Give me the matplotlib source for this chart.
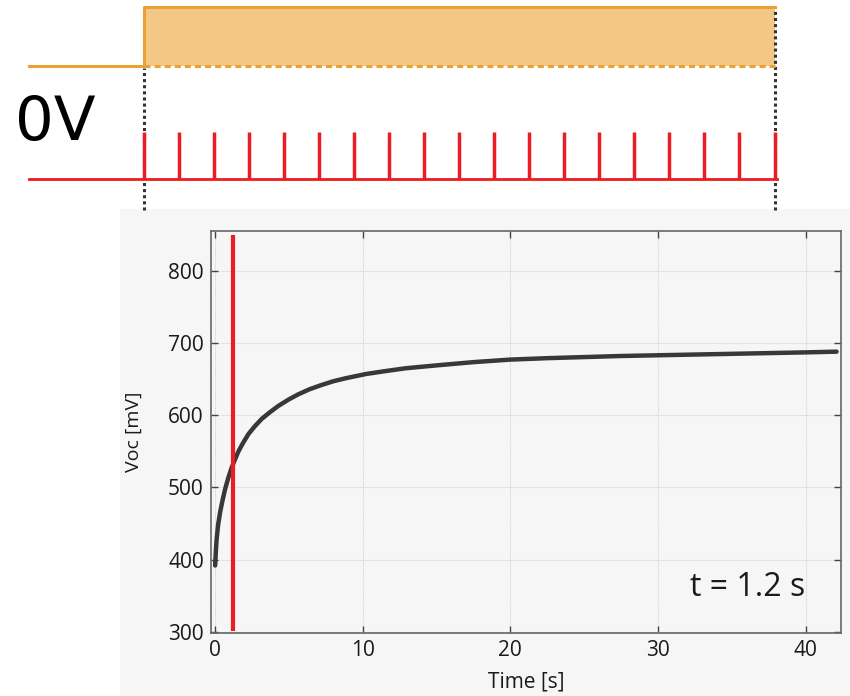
import numpy as np
import matplotlib
matplotlib.use("Agg")
import matplotlib.pyplot as plt
from matplotlib.patches import Rectangle

plt.rcParams['font.family'] = ['Open Sans', 'DejaVu Sans']

# Voc transient
time_s = [0.0, 0.05, 0.1, 0.2, 0.34, 0.5, 0.68, 0.9, 1.13, 1.35, 1.58, 1.9,
          2.26, 2.7, 3.16, 3.7, 4.29, 5.0, 5.64, 6.4, 7.23, 8.0, 8.8, 10.2,
          11.5, 12.9, 15.0, 17.5, 20.0, 22.5, 25.0, 27.5, 30.0, 32.5, 35.0,
          37.5, 40.0, 42.1]
voc_mv = [392, 412, 428, 448, 466, 482, 498, 514, 528, 539, 550, 562,
          574, 585, 595, 604, 613, 622, 629, 636, 642, 647, 651, 657,
          661, 665, 669, 673.5, 677, 679, 680.5, 682, 683, 684, 685,
          686, 687, 688]

t_marker = 1.2
marker_span = [302, 849]
marker_label = "t = 1.2 s"

xticks = [0, 10, 20, 30, 40]
yticks = [300, 400, 500, 600, 700, 800]

# schematic above the plot: gate step + pulse train
n_pulses = 19
bias_label = "0V"

W, H = 850, 696
fig = plt.figure(figsize=(W / 100, H / 100), dpi=100)

ORANGE = '#eba133'
ORANGE_FILL = '#f3c887'
RED = '#ec1c24'
GREY_BG = '#f6f6f6'

# grey backdrop of the pasted plot
fig.patches.append(Rectangle((120 / W, 0), 1 - 120 / W, 1 - 209 / H,
                             transform=fig.transFigure, facecolor=GREY_BG,
                             edgecolor='none', zorder=-5))

#----------------------------------------------------------------------
# main plot
ax = fig.add_axes([210.7 / W, 1 - 632.7 / H, (841 - 210.7) / W, (632.7 - 231) / H])
ax.set_facecolor(GREY_BG)
ax.set_axisbelow(True)
ax.grid(True, color='#d2d2d2', linestyle=(0, (1, 1)), linewidth=0.8)
ax.plot(time_s, voc_mv, color='#383838', lw=3.2, solid_capstyle='round',
        solid_joinstyle='round', zorder=3)
ax.vlines(t_marker, marker_span[0], marker_span[1], color=RED, lw=3, zorder=4)

ax.set_xlim(-0.3, 42.4)
ax.set_ylim(299, 855)
ax.set_xticks(xticks)
ax.set_yticks(yticks)
ax.tick_params(direction='in', top=True, right=True, length=5, width=1,
               color='#444444', labelsize=15, labelcolor='#1a1a1a', pad=5)
for s in ax.spines.values():
    s.set_color('#666666')
    s.set_linewidth(1.2)

ax.set_xlabel('Time [s]', fontsize=15, labelpad=8, color='#1a1a1a')
ax.set_ylabel('Voc [mV]', fontsize=14, labelpad=18, color='#1a1a1a')
ax.text(0.944, 0.092, marker_label, transform=ax.transAxes, ha='right',
        va='baseline', fontsize=23, color='#1a1a1a')

#----------------------------------------------------------------------
# schematic (x in pulse-index units, y in signal levels)
axd = fig.add_axes([0, 1 - 215 / H, 1, 215 / H])
axd.set_xlim(-4.097, 20.154)
axd.set_ylim(-0.766, 3.809)
axd.axis('off')
axd.patch.set_visible(False)

pulses = np.arange(n_pulses)
last = pulses[-1]
lo, hi = 2.40, 3.66

axd.fill_between([0, last], lo, hi, color=ORANGE_FILL, lw=0, zorder=1)
axd.plot([-3.27, 0, 0, last], [lo, lo, hi, hi], color=ORANGE, lw=2.2, zorder=3)
axd.plot([0, last], [lo, lo], color=ORANGE, lw=2.2, ls=(0, (2, 1.3)), zorder=3)

# dotted guides
axd.vlines(0, -0.66, lo - 0.04, color='#333333', ls=(0, (1, 1)), lw=2.2, zorder=2)
axd.vlines(last, -0.66, hi, color='#333333', ls=(0, (1, 1)), lw=2.2, zorder=2)

axd.plot([-3.27, last + 0.07], [0, 0], color=RED, lw=2, zorder=4)
axd.vlines(pulses, 0, 1, color=RED, lw=2.5, zorder=4)

axd.text(-3.67, 0.83, bias_label, fontsize=44, va='baseline', ha='left',
         color='black', family=['DejaVu Sans'])

fig.savefig('out.png', dpi=100)
